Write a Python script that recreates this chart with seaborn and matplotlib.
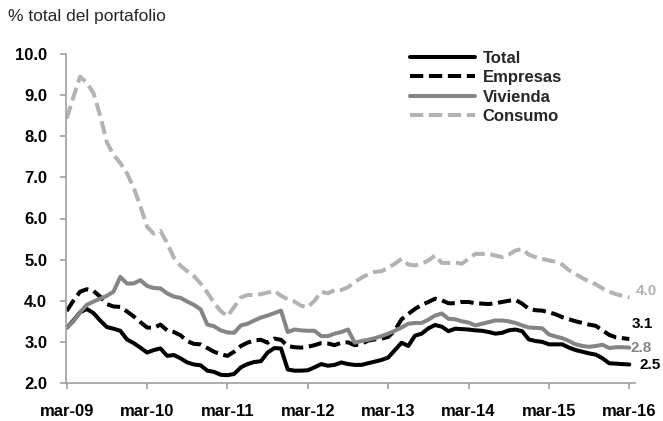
import numpy as np
import pandas as pd
import matplotlib
matplotlib.use("Agg")
import matplotlib.pyplot as plt
import seaborn as sns

# ---------------- data (monthly, mar-09 .. mar-16) ----------------
tick_labels = ["mar-09", "mar-10", "mar-11", "mar-12", "mar-13", "mar-14", "mar-15", "mar-16"]
series_names = ["Total", "Empresas", "Vivienda", "Consumo"]
end_labels = ["2.5", "3.1", "2.8", "4.0"]
title_text = "% total del portafolio"

total = [3.34, 3.52, 3.72, 3.80, 3.70, 3.52, 3.36, 3.32, 3.27, 3.06, 2.97, 2.86,
         2.74, 2.80, 2.84, 2.66, 2.68, 2.60, 2.50, 2.45, 2.43, 2.30, 2.27, 2.20,
         2.19, 2.22, 2.38, 2.46, 2.51, 2.53, 2.74, 2.85, 2.84, 2.33, 2.30, 2.30,
         2.31, 2.38, 2.46, 2.42, 2.44, 2.50, 2.46, 2.44, 2.44, 2.48, 2.52, 2.56,
         2.62, 2.80, 2.98, 2.90, 3.15, 3.20, 3.33, 3.41, 3.37, 3.26, 3.32, 3.31,
         3.30, 3.28, 3.27, 3.24, 3.20, 3.22, 3.28, 3.30, 3.26, 3.06, 3.02, 3.00,
         2.94, 2.94, 2.94, 2.86, 2.80, 2.76, 2.72, 2.69, 2.60, 2.48, 2.47, 2.46,
         2.45]

empresas = [3.75, 4.00, 4.22, 4.28, 4.24, 4.10, 3.92, 3.86, 3.85, 3.74, 3.62, 3.48,
            3.35, 3.34, 3.42, 3.28, 3.24, 3.16, 3.02, 2.95, 2.94, 2.85, 2.76, 2.70,
            2.66, 2.76, 2.90, 2.98, 3.04, 3.05, 2.98, 3.08, 3.05, 2.90, 2.87, 2.86,
            2.88, 2.92, 2.97, 2.96, 2.92, 2.98, 2.99, 2.92, 2.95, 3.03, 3.06, 3.08,
            3.12, 3.28, 3.55, 3.68, 3.80, 3.90, 3.97, 4.05, 4.01, 3.94, 3.94, 3.97,
            3.97, 3.94, 3.93, 3.92, 3.94, 3.97, 4.00, 4.02, 3.93, 3.80, 3.77, 3.76,
            3.72, 3.67, 3.60, 3.55, 3.50, 3.46, 3.42, 3.39, 3.28, 3.17, 3.11, 3.09,
            3.07]

vivienda = [3.34, 3.50, 3.72, 3.90, 3.98, 4.05, 4.12, 4.22, 4.58, 4.42, 4.42, 4.50,
            4.36, 4.31, 4.30, 4.18, 4.10, 4.07, 3.98, 3.90, 3.79, 3.42, 3.38, 3.28,
            3.23, 3.22, 3.40, 3.44, 3.52, 3.59, 3.64, 3.70, 3.76, 3.24, 3.30, 3.28,
            3.27, 3.27, 3.14, 3.14, 3.20, 3.24, 3.30, 2.98, 3.02, 3.05, 3.09, 3.14,
            3.20, 3.27, 3.35, 3.44, 3.46, 3.46, 3.54, 3.64, 3.69, 3.56, 3.55, 3.50,
            3.47, 3.40, 3.44, 3.48, 3.52, 3.52, 3.50, 3.46, 3.40, 3.35, 3.34, 3.33,
            3.18, 3.13, 3.09, 3.02, 2.94, 2.90, 2.88, 2.90, 2.93, 2.85, 2.87, 2.87,
            2.86]

consumo = [8.43, 8.95, 9.45, 9.30, 9.05, 8.50, 7.85, 7.55, 7.35, 7.10, 6.75, 6.30,
           5.80, 5.63, 5.70, 5.40, 5.05, 4.85, 4.72, 4.60, 4.42, 4.20, 3.95, 3.75,
           3.62, 3.85, 4.08, 4.14, 4.14, 4.16, 4.20, 4.24, 4.12, 4.04, 3.98, 3.88,
           3.84, 4.00, 4.22, 4.18, 4.26, 4.26, 4.33, 4.45, 4.56, 4.64, 4.70, 4.72,
           4.80, 4.90, 5.02, 4.88, 4.86, 4.90, 4.98, 5.10, 4.92, 4.92, 4.93, 4.90,
           5.02, 5.14, 5.14, 5.14, 5.10, 5.06, 5.12, 5.22, 5.26, 5.12, 5.06, 5.02,
           4.98, 4.95, 4.88, 4.74, 4.65, 4.55, 4.47, 4.40, 4.30, 4.22, 4.16, 4.12,
           4.08]

months = np.arange(len(total))
df = pd.DataFrame({"mes": months, "Total": total, "Empresas": empresas,
                   "Vivienda": vivienda, "Consumo": consumo})

# ---------------- styling ----------------
sns.set_theme(style="white")
plt.rcParams["font.family"] = ["Liberation Sans", "DejaVu Sans"]

W, H = 663, 421
fig = plt.figure(figsize=(W / 100, H / 100), dpi=100)
ax = fig.add_axes([66 / W, 1 - 383 / H, (635 - 66) / W, (383 - 54) / H])

dash = (0, (3.3, 1.4))
styles = {
    "Total": dict(color="black", linestyle="-"),
    "Empresas": dict(color="black", linestyle=dash),
    "Vivienda": dict(color="#858585", linestyle="-"),
    "Consumo": dict(color="#b3b3b3", linestyle=dash),
}
label_offsets = {"Total": (10, -1), "Empresas": (2, 15), "Vivienda": (1, 0), "Consumo": (6, 6)}

for name in series_names:
    sns.lineplot(data=df, x="mes", y=name, ax=ax, label=name, linewidth=2.9,
                 **styles[name])

for name, txt in zip(series_names, end_labels):
    ax.annotate(txt, xy=(df["mes"].iloc[-1], df[name].iloc[-1]),
                xytext=label_offsets[name], textcoords="offset pixels",
                ha="left", va="center", fontsize=11, fontweight="bold",
                color=styles[name]["color"], annotation_clip=False)

ax.set_xlim(-0.1, 84.85)
ax.set_ylim(2, 10)
ax.set_xticks(np.arange(0, 85, 12))
ax.set_xticklabels(tick_labels)
ax.set_yticks(np.arange(2, 10.01, 1))
ax.set_yticklabels([f"{v:.1f}" for v in np.arange(2, 10.01, 1)])
ax.set_xlabel("")
ax.set_ylabel("")

for s in ["top", "right"]:
    ax.spines[s].set_visible(False)
for s in ["left", "bottom"]:
    ax.spines[s].set_color("#a0a0a0")
    ax.spines[s].set_linewidth(1.2)

ax.tick_params(axis="both", which="major", direction="out", length=4.5, width=1.2,
               color="#a0a0a0", labelsize=12, labelcolor="black")
ax.tick_params(axis="y", pad=9)
ax.tick_params(axis="x", pad=10.5)
ax.tick_params(left=True, bottom=True)
for lbl in ax.get_xticklabels() + ax.get_yticklabels():
    lbl.set_fontweight("bold")

leg = ax.legend(loc="upper left", bbox_to_anchor=(410 / W, 1 - 51 / H),
                bbox_transform=fig.transFigure, frameon=False, borderpad=0,
                borderaxespad=0, handlelength=3.9, handletextpad=0.45,
                labelspacing=0.26, prop={"weight": "bold", "size": 12})

fig.text(8 / W, 1 - 17 / H, title_text, ha="left", va="center", fontsize=12.5)

fig.savefig("out.png", dpi=100)
